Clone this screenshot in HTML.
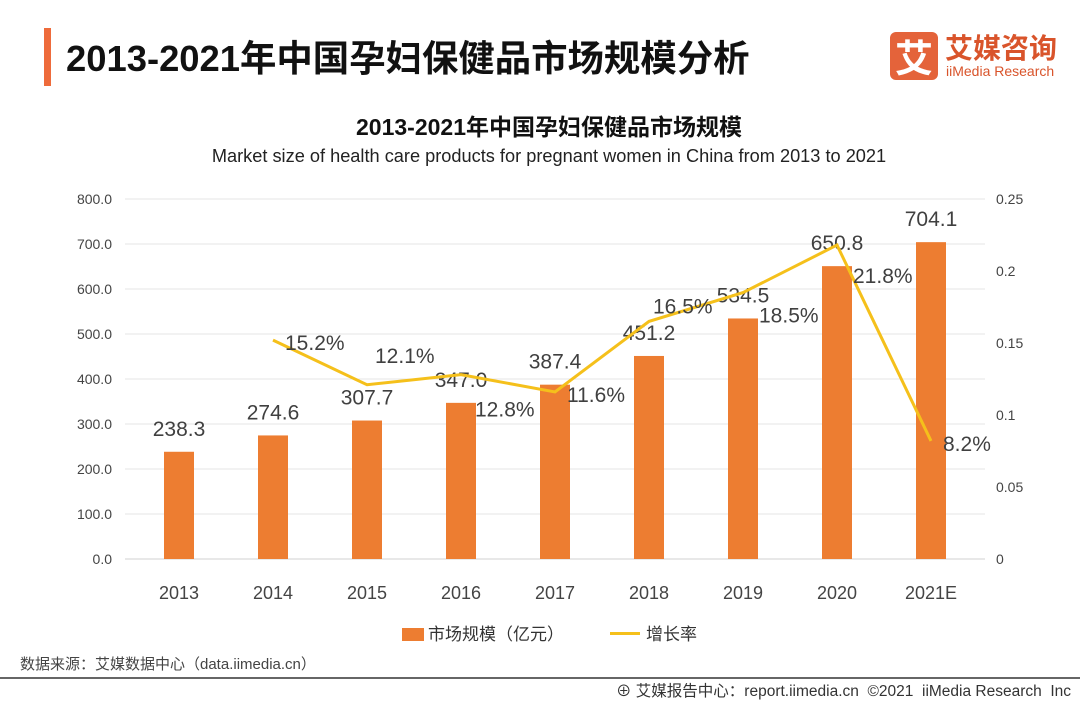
<!DOCTYPE html>
<html><head><meta charset="utf-8"><style>
body{margin:0;width:1080px;height:702px;background:#fff;font-family:"Liberation Sans","Noto Sans CJK SC",sans-serif;overflow:hidden;position:relative}
.t{position:absolute;white-space:nowrap}
</style></head><body>
<div style="position:absolute;left:44px;top:28px;width:7px;height:58px;background:#ee6b3b"></div>
<div class="t" style="left:66px;top:30px;font-size:36.4px;font-weight:bold;color:#111">2013-2021年中国孕妇保健品市场规模分析</div>
<div style="position:absolute;left:890px;top:32px;width:48px;height:48px;background:#e4633a;border-radius:6px;color:#fff;font-size:38px;font-weight:bold;text-align:center;line-height:48px;font-family:'Noto Sans CJK SC',sans-serif">艾</div>
<div class="t" style="left:945px;top:30px;font-size:28px;font-weight:bold;color:#d9542b;font-family:'Noto Sans CJK SC',sans-serif;line-height:34px">艾媒咨询</div>
<div class="t" style="left:946px;top:63px;font-size:14px;color:#d9542b">iiMedia Research</div>
<div class="t" style="left:0;width:1098px;text-align:center;top:108px;font-size:23px;font-weight:bold;color:#111">2013-2021年中国孕妇保健品市场规模</div>
<div class="t" style="left:0;width:1098px;text-align:center;top:146px;font-size:18.2px;color:#222">Market size of health care products for pregnant women in China from 2013 to 2021</div>
<svg id="c" width="1080" height="702" style="position:absolute;left:0;top:0" font-family="Liberation Sans, Noto Sans CJK SC, sans-serif"></svg>
<div class="t" style="left:402px;top:620px;font-size:17px;color:#333"><span style="display:inline-block;width:22px;height:13px;background:#ed7d31;vertical-align:-1px;margin-right:4px"></span>市场规模（亿元）</div>
<div class="t" style="left:610px;top:620px;font-size:17px;color:#333"><span style="display:inline-block;width:30px;height:3px;background:#f5c01b;vertical-align:5px;margin-right:6px"></span>增长率</div>
<div class="t" style="left:20px;top:653px;font-size:15px;color:#444">数据来源：艾媒数据中心（data.iimedia.cn）</div>
<div style="position:absolute;left:0;top:677px;width:1080px;height:2px;background:#666"></div>
<div class="t" style="left:616px;top:679px;font-size:15.5px;color:#333">⊕ 艾媒报告中心：report.iimedia.cn &nbsp;©2021 &nbsp;iiMedia Research &nbsp;Inc</div>
<script>
const categories=["2013","2014","2015","2016","2017","2018","2019","2020","2021E"];
const marketSize=[238.3,274.6,307.7,347.0,387.4,451.2,534.5,650.8,704.1];
const growthRate=[null,0.152,0.121,0.128,0.116,0.165,0.185,0.218,0.082];
const growthLabels=["","15.2%","12.1%","12.8%","11.6%","16.5%","18.5%","21.8%","8.2%"];
const leftTicks=[0,100,200,300,400,500,600,700,800];
const rightTicks=[0,0.05,0.1,0.15,0.2,0.25];
const labelOffX=[0,12,8,14,12,4,16,16,12], labelOffY=[0,10,-22,42,10,-8,30,38,10];
const NS="http://www.w3.org/2000/svg",svg=document.getElementById('c');
const X0=132,STEP=94,PTOP=199,PBOT=559;
const xs=i=>X0+STEP*(i+0.5);
const y=v=>PBOT-(v/800)*(PBOT-PTOP);
const yr=v=>PBOT-(v/0.25)*(PBOT-PTOP);
function mk(t,a,txt){const e=document.createElementNS(NS,t);for(const k in a)e.setAttribute(k,a[k]);if(txt!==undefined)e.textContent=txt;svg.appendChild(e);return e;}
leftTicks.forEach(v=>{
const g=mk('line',{x1:125,x2:985,y1:y(v),y2:y(v),stroke:v?'#e6e6e6':'#d0d0d0','stroke-width':1});


const t=mk('text',{x:112,y:y(v)+5,'text-anchor':'end','font-size':14,fill:'#444'},v.toFixed(1));


});
rightTicks.forEach(v=>{
const t=mk('text',{x:996,y:yr(v)+5,'font-size':14,fill:'#444'},String(v));


});
categories.forEach((c,i)=>{
const cx=xs(i);
const b=mk('rect',{x:cx-15,y:y(marketSize[i]),width:30,height:PBOT-y(marketSize[i]),fill:'#ed7d31'});


const l=mk('text',{x:cx,y:y(marketSize[i])-16,'text-anchor':'middle','font-size':21,fill:'#404040'},marketSize[i].toFixed(1));


const t=mk('text',{x:cx,y:599,'text-anchor':'middle','font-size':18,fill:'#444'},c);


});
let pts=[];growthRate.forEach((v,i)=>{if(v!==null)pts.push(xs(i)+','+yr(v));});
const pl=mk('polyline',{points:pts.join(' '),fill:'none',stroke:'#f5c01b','stroke-width':3});


growthRate.forEach((v,i)=>{if(v===null)return;
const t=mk('text',{x:xs(i)+labelOffX[i],y:yr(v)+labelOffY[i],'font-size':21,fill:'#404040'},growthLabels[i]);


});
</script>
</body></html>
